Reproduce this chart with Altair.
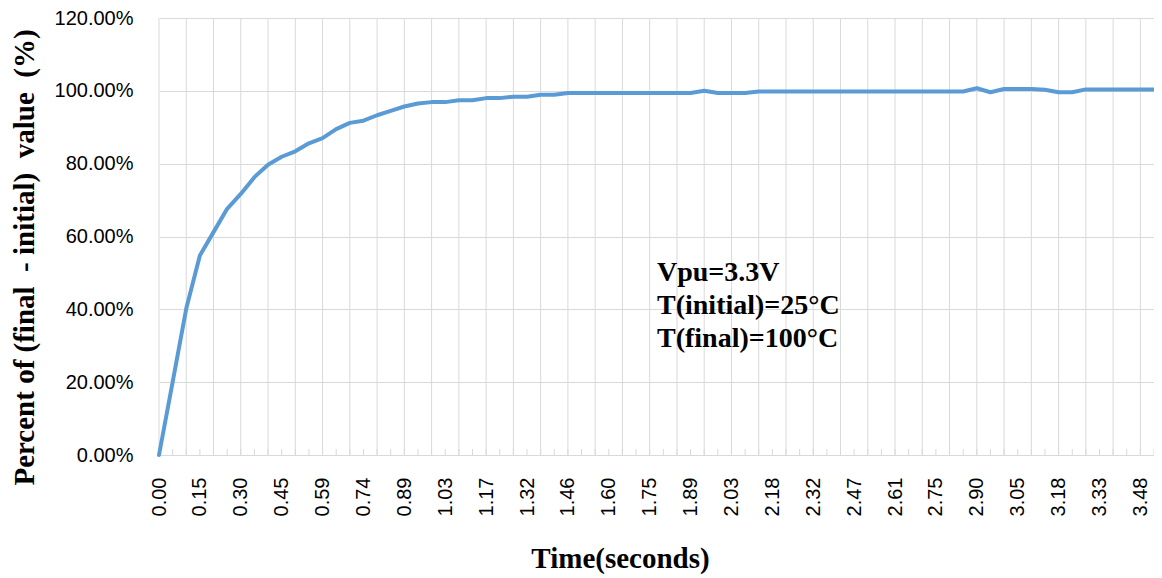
import altair as alt
import pandas as pd

# Percent of (final - initial) value, one reading per sample (sample spacing ~0.048 s)
percent = [
    0.0, 20.0, 40.2, 54.8, 61.2, 67.6, 71.7, 76.3, 79.7, 81.9,
    83.4, 85.6, 87.0, 89.5, 91.2, 91.8, 93.3, 94.5, 95.7, 96.5,
    96.9, 96.9, 97.4, 97.4, 98.0, 98.0, 98.4, 98.4, 98.9, 98.9,
    99.4, 99.4, 99.4, 99.4, 99.4, 99.4, 99.4, 99.4, 99.4, 99.4,
    100.0, 99.4, 99.4, 99.4, 99.8, 99.8, 99.8, 99.8, 99.8, 99.8,
    99.8, 99.8, 99.8, 99.8, 99.8, 99.8, 99.8, 99.8, 99.8, 99.8,
    100.7, 99.6, 100.5, 100.5, 100.5, 100.3, 99.6, 99.6, 100.4, 100.4,
    100.4, 100.4, 100.4, 100.4,
]

# Time labels shown on every third sample
tick_labels = [
    "0.00", "0.15", "0.30", "0.45", "0.59", "0.74", "0.89", "1.03", "1.17",
    "1.32", "1.46", "1.60", "1.75", "1.89", "2.03", "2.18", "2.32", "2.47",
    "2.61", "2.75", "2.90", "3.05", "3.18", "3.33", "3.48",
]

y_ticks = [0, 0.2, 0.4, 0.6, 0.8, 1.0, 1.2]

note_lines = ["Vpu=3.3V", "T(initial)=25°C", "T(final)=100°C"]

x_title = "Time(seconds)"
y_title = "Percent of (final\u00a0\u00a0- initial)\u00a0\u00a0value\u00a0\u00a0(%)"

n = len(percent)
df = pd.DataFrame({"sample": list(range(n)), "value": [p / 100 for p in percent]})

W, H = 995, 437
BLUE = "#5B9BD5"
GRID = "#D9D9D9"

label_array = "[" + ",".join("'" + s + "'" for s in tick_labels) + "]"
label_expr = f"datum.value % 3 == 0 ? {label_array}[datum.value / 3] : ''"

xscale = alt.Scale(domain=[0, n - 1], nice=False, zero=False)
yscale = alt.Scale(domain=[0, 1.2], nice=False)

x_axis = alt.Axis(
    values=list(range(n)),
    labelExpr=label_expr,
    labelAngle=-90,
    labelFont="Liberation Sans",
    labelFontSize=20,
    labelColor="#000000",
    labelPadding=22,
    labelOverlap=False,
    labelFlush=False,
    ticks=False,
    grid=False,
    domain=True,
    domainColor=GRID,
    domainWidth=1.2,
    title=x_title,
    titleFont="Liberation Serif",
    titleFontWeight="bold",
    titleFontSize=29,
    titleColor="#000000",
    titleX=461,
    titleY=103,
    titleBaseline="middle",
    titleAlign="center",
)

y_axis = alt.Axis(
    values=y_ticks,
    format=".2%",
    labelFont="Liberation Sans",
    labelFontSize=20,
    labelColor="#000000",
    labelPadding=26,
    ticks=False,
    domain=False,
    grid=True,
    gridColor=GRID,
    gridWidth=1,
    title=y_title,
    titleFont="Liberation Serif",
    titleFontWeight="bold",
    titleFontSize=29,
    titleColor="#000000",
    titleAngle=-90,
    titleX=-135,
    titleY=239,
    titleBaseline="middle",
    titleAlign="center",
)

vgrid = alt.Chart(df).transform_filter("datum.sample % 2 == 0").mark_rule(
    color=GRID, strokeWidth=1
).encode(
    x=alt.X("sample:Q", scale=xscale, axis=x_axis),
    y=alt.value(0),
    y2=alt.value(H),
)

ticks = alt.Chart(df).mark_rule(color=GRID, strokeWidth=1).encode(
    x=alt.X("sample:Q", scale=xscale, axis=x_axis),
    y=alt.value(H - 6),
    y2=alt.value(H),
)

line = alt.Chart(df).mark_line(
    color=BLUE, strokeWidth=4, strokeJoin="round", strokeCap="round"
).encode(
    x=alt.X("sample:Q", scale=xscale, axis=x_axis),
    y=alt.Y("value:Q", scale=yscale, axis=y_axis),
)

note = alt.Chart(pd.DataFrame({"k": [0]})).mark_text(
    text=note_lines,
    align="left",
    baseline="alphabetic",
    font="Liberation Serif",
    fontWeight="bold",
    fontSize=28,
    lineHeight=33,
    color="#000000",
).encode(
    x=alt.value(498),
    y=alt.value(263),
)

chart = (
    alt.layer(vgrid, ticks, line, note)
    .properties(
        width=W,
        height=H,
        autosize=alt.AutoSizeParams(type="none"),
        padding={"left": 151, "top": 10, "right": 0, "bottom": 124},
        background="white",
    )
    .configure_view(stroke=None)
)

chart.save("out.html", embed_options={"renderer": "svg", "actions": False})
